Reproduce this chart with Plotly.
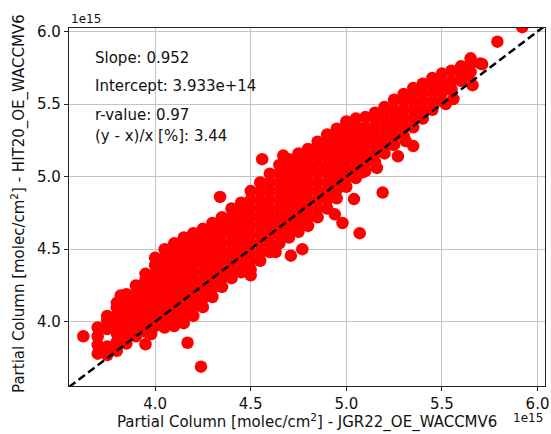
import plotly.graph_objects as go

# ---- data (units of 1e15 molec/cm^2) ----
# dense cloud, listed column by column: x of each column and the y values in it
col_x = [3.70, 3.75, 3.80, 3.85, 3.90, 3.95, 4.00, 4.05, 4.10, 4.15, 4.20, 4.25,
         4.30, 4.35, 4.40, 4.45, 4.50, 4.55, 4.60, 4.65, 4.70, 4.75, 4.80, 4.85,
         4.90, 4.95, 5.00, 5.05, 5.10, 5.15, 5.20, 5.25, 5.30, 5.35, 5.40, 5.45,
         5.50, 5.55, 5.60, 5.65, 5.70]
col_y = [
    [3.78, 3.84, 3.90, 3.96],
    [3.77, 3.83, 3.95, 4.01, 4.04],
    [3.80, 3.86, 3.92, 3.98, 4.04, 4.10, 4.13],
    [3.85, 3.91, 3.97, 4.03, 4.09, 4.15, 4.19],
    [3.90, 3.96, 4.02, 4.08, 4.14, 4.20, 4.25],
    [3.93, 3.99, 4.05, 4.11, 4.17, 4.23, 4.29, 4.33],
    [3.97, 4.03, 4.09, 4.15, 4.21, 4.27, 4.33, 4.39, 4.44],
    [3.96, 4.02, 4.08, 4.14, 4.20, 4.26, 4.32, 4.38, 4.44, 4.50],
    [3.97, 4.03, 4.09, 4.15, 4.21, 4.27, 4.33, 4.39, 4.45, 4.51, 4.54],
    [3.99, 4.05, 4.11, 4.17, 4.23, 4.29, 4.35, 4.41, 4.47, 4.53, 4.58],
    [4.04, 4.10, 4.16, 4.22, 4.28, 4.34, 4.40, 4.46, 4.52, 4.58, 4.61],
    [4.10, 4.16, 4.22, 4.28, 4.34, 4.40, 4.46, 4.52, 4.58, 4.64],
    [4.17, 4.23, 4.29, 4.35, 4.41, 4.47, 4.53, 4.59, 4.65, 4.68],
    [4.24, 4.30, 4.36, 4.42, 4.48, 4.54, 4.60, 4.66, 4.72],
    [4.30, 4.36, 4.42, 4.48, 4.54, 4.60, 4.66, 4.72, 4.78],
    [4.34, 4.40, 4.46, 4.52, 4.58, 4.64, 4.70, 4.76, 4.82],
    [4.36, 4.42, 4.48, 4.54, 4.60, 4.66, 4.72, 4.78, 4.84, 4.90],
    [4.42, 4.48, 4.54, 4.60, 4.66, 4.72, 4.78, 4.84, 4.90, 4.96],
    [4.48, 4.54, 4.60, 4.66, 4.72, 4.78, 4.84, 4.90, 4.96, 5.02],
    [4.54, 4.60, 4.66, 4.72, 4.78, 4.84, 4.90, 4.96, 5.02, 5.08],
    [4.58, 4.64, 4.70, 4.76, 4.82, 4.88, 4.94, 5.00, 5.06, 5.12],
    [4.62, 4.68, 4.74, 4.80, 4.86, 4.92, 4.98, 5.04, 5.10, 5.16],
    [4.66, 4.72, 4.78, 4.84, 4.90, 4.96, 5.02, 5.08, 5.14, 5.19],
    [4.72, 4.78, 4.84, 4.90, 4.96, 5.02, 5.08, 5.14, 5.20, 5.24],
    [4.78, 4.84, 4.90, 4.96, 5.02, 5.08, 5.14, 5.20, 5.26, 5.29],
    [4.85, 4.91, 4.97, 5.03, 5.09, 5.15, 5.21, 5.27, 5.33],
    [4.93, 4.99, 5.05, 5.11, 5.17, 5.23, 5.29, 5.35, 5.38],
    [4.99, 5.05, 5.11, 5.17, 5.23, 5.29, 5.35, 5.40],
    [5.04, 5.10, 5.16, 5.22, 5.28, 5.34, 5.41],
    [5.10, 5.16, 5.22, 5.28, 5.34, 5.40, 5.44],
    [5.16, 5.22, 5.28, 5.34, 5.40, 5.46, 5.48],
    [5.22, 5.28, 5.34, 5.40, 5.46, 5.53],
    [5.28, 5.34, 5.40, 5.46, 5.52, 5.57],
    [5.34, 5.40, 5.46, 5.52, 5.58, 5.61],
    [5.40, 5.46, 5.52, 5.58, 5.64],
    [5.46, 5.52, 5.58, 5.64, 5.68],
    [5.52, 5.58, 5.64, 5.71],
    [5.60, 5.66, 5.73],
    [5.66, 5.71, 5.76],
    [5.72, 5.78],
    [5.78],
]

# scattered points around the cloud
x_sparse = [3.625, 4.24, 4.17, 3.95, 3.98, 3.82, 4.34, 4.56, 4.67,
            4.50, 4.63, 4.71, 4.77, 4.66, 5.07, 4.98, 4.94, 5.04, 5.19,
            5.16, 5.085, 5.27, 5.35, 5.31, 5.24, 5.52, 5.56, 5.66, 5.64,
            5.71, 5.65, 5.79, 5.92]
y_sparse = [3.90, 3.69, 3.855, 3.845, 3.915, 4.18, 4.86, 5.12, 5.145,
            4.32, 4.48, 4.455, 4.50, 4.59, 4.61, 4.68, 4.74, 4.845, 4.89,
            5.06, 5.03, 5.14, 5.21, 5.245, 5.22, 5.50, 5.535, 5.63, 5.70,
            5.775, 5.815, 5.93, 6.03]

# 1:1 reference line end points
diag = [3.55, 6.04]

x_ticks = [4.0, 4.5, 5.0, 5.5, 6.0]
y_ticks = [4.0, 4.5, 5.0, 5.5, 6.0]
x_range = [3.550, 6.039]
y_range = [3.557, 6.024]

stats_lines = ["Slope: 0.952", "Intercept: 3.933e+14", "r-value: 0.97",
               "(y - x)/x [%]: 3.44"]

# ---- build figure ----
xs, ys = [], []
for cx, cys in zip(col_x, col_y):
    for cy in cys:
        xs.append(cx)
        ys.append(cy)
xs += x_sparse
ys += y_sparse

FONT = "DejaVu Sans"
TXT = "#111111"
FS = 15

fig = go.Figure()
fig.add_trace(go.Scatter(x=xs, y=ys, mode="markers",
                         marker=dict(color="#ff0000", size=12.5, line=dict(width=0)),
                         showlegend=False, hoverinfo="skip"))
fig.add_trace(go.Scatter(x=diag, y=diag, mode="lines",
                         line=dict(color="black", width=2.5, dash="8px,4px"),
                         showlegend=False, hoverinfo="skip"))

axis_common = dict(showgrid=True, gridcolor="#c4c4c4", gridwidth=1,
                   showline=True, linecolor="#222222", linewidth=1.2, mirror=True,
                   ticks="outside", ticklen=4, tickwidth=1, tickcolor="#222222",
                   zeroline=False, tickfont=dict(family=FONT, size=FS, color=TXT),
                   automargin=False)

fig.update_layout(
    width=551, height=434,
    margin=dict(l=69, r=6, t=28, b=48),
    paper_bgcolor="white", plot_bgcolor="white",
    font=dict(family=FONT, size=FS, color=TXT),
    xaxis=dict(range=x_range, tickvals=x_ticks,
               ticktext=[f"{v:.1f}" for v in x_ticks], **axis_common),
    yaxis=dict(range=y_range, tickvals=y_ticks,
               ticktext=[f"{v:.1f}" for v in y_ticks], **axis_common),
)

# stats text
stat_y = [0.917, 0.838, 0.757, 0.698]
for s, yy in zip(stats_lines, stat_y):
    fig.add_annotation(text=s, xref="paper", yref="paper", x=0.050, y=yy,
                       xanchor="left", yanchor="middle", showarrow=False,
                       font=dict(family=FONT, size=FS, color=TXT))

# axis titles
fig.add_annotation(text="Partial Column [molec/cm<sup>2</sup>] - JGR22_OE_WACCMV6",
                   xref="paper", yref="paper", x=0.5, y=-0.098,
                   xanchor="center", yanchor="middle", showarrow=False,
                   font=dict(family=FONT, size=FS, color=TXT))
fig.add_annotation(text="Partial Column [molec/cm<sup>2</sup>] - HIT20_OE_WACCMV6",
                   xref="paper", yref="paper", x=-0.106, y=0.51, textangle=-90,
                   xanchor="center", yanchor="middle", showarrow=False,
                   font=dict(family=FONT, size=FS, color=TXT))

# offset texts
fig.add_annotation(text="1e15", xref="paper", yref="paper", x=0.0, y=1.026,
                   xanchor="left", yanchor="middle", showarrow=False,
                   font=dict(family=FONT, size=12, color=TXT))
fig.add_annotation(text="1e15", xref="paper", yref="paper", x=1.0, y=-0.089,
                   xanchor="right", yanchor="middle", showarrow=False,
                   font=dict(family=FONT, size=12, color=TXT))

fig.write_html("out.html", config={"displayModeBar": False},
               post_script="document.body.style.margin='0';"
                           "document.body.style.overflow='hidden';")
